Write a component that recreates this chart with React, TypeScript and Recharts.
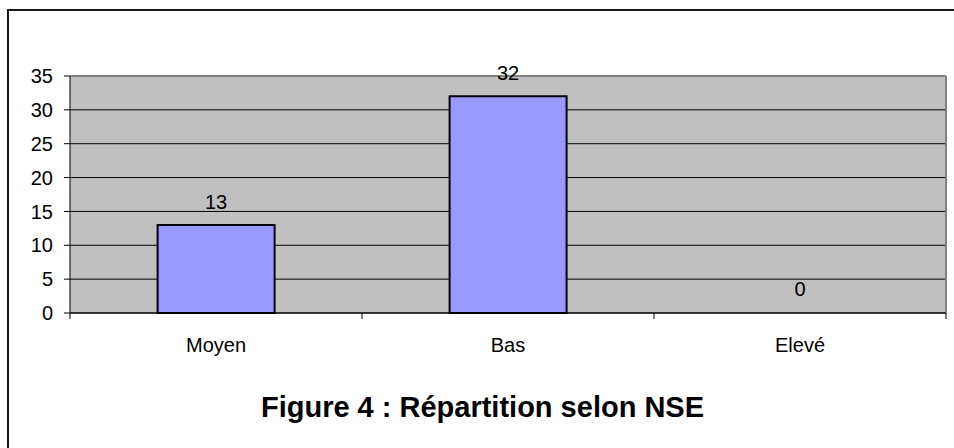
import React from 'react'
import { BarChart, Bar, XAxis, YAxis, CartesianGrid, LabelList, ReferenceLine, Rectangle } from 'recharts'

const categories = ['Moyen', 'Bas', 'Elevé']
const counts = [13, 32, 0]
const yTicks = [0, 5, 10, 15, 20, 25, 30, 35]
const title = 'Figure 4 : Répartition selon NSE'

const data = categories.map((name, i) => ({ name, count: counts[i] }))

// category label + small marks at the category boundaries (like the old Excel chart)
function CategoryTick(props: any) {
  const { x, y, payload, index, visibleTicksCount, width } = props
  const half = payload?.offset ?? width / visibleTicksCount / 2
  const last = index === visibleTicksCount - 1
  return (
    <g>
      <line x1={x - half} x2={x - half} y1={y} y2={y + 6} stroke="#000" />
      {last && <line x1={x + half} x2={x + half} y1={y} y2={y + 6} stroke="#000" />}
      <text x={x} y={y + 39} textAnchor="middle" fontSize={20} fill="#000">
        {payload.value}
      </text>
    </g>
  )
}

// zero bars get a 1px placeholder so the label still shows, but nothing is drawn
function BarShape(props: any) {
  if (props.payload && props.payload.count === 0) return <g />
  return <Rectangle {...props} />
}

export default function App() {
  return (
    <div
      style={{
        position: 'fixed',
        left: 0,
        top: 0,
        width: 954,
        height: 448,
        overflow: 'hidden',
        background: '#fff',
        fontFamily: '"Liberation Sans", Arial, sans-serif',
      }}
    >
      {/* outer frame, only top and left edges are visible in the crop */}
      <div
        style={{
          position: 'absolute',
          left: 7,
          top: 9,
          width: 1000,
          height: 500,
          borderLeft: '2px solid #1a1a1a',
          borderTop: '2px solid #1a1a1a',
        }}
      />
      <div style={{ position: 'absolute', left: 0, top: 0 }}>
        <BarChart
          width={954}
          height={448}
          data={data}
          margin={{ top: 76, right: 8, bottom: 105, left: 0 }}
          barCategoryGap="30%"
        >
          <CartesianGrid vertical={false} stroke="#000" fill="#C0C0C0" fillOpacity={1} />
          <CartesianGrid
            horizontal={false}
            stroke="#808080"
            strokeWidth={2}
            verticalCoordinatesGenerator={({ offset }: any) => [offset.left + offset.width]}
          />
          <ReferenceLine y={35} stroke="#808080" strokeWidth={2} />
          <XAxis
            dataKey="name"
            stroke="#000"
            tickLine={false}
            tickSize={0}
            tickMargin={0}
            height={30}
            tick={<CategoryTick />}
            interval={0}
          />
          <YAxis
            domain={[0, 35]}
            ticks={yTicks}
            width={70}
            stroke="#000"
            tickSize={6}
            tickMargin={11}
            tick={{ fontSize: 20, fill: '#000' }}
            interval={0}
          />
          <Bar
            dataKey="count"
            fill="#9999FF"
            stroke="#000"
            strokeWidth={2}
            minPointSize={1}
            shape={BarShape}
            isAnimationActive={false}
          >
            <LabelList dataKey="count" position="top" offset={16} fontSize={20} fill="#000" />
          </Bar>
        </BarChart>
      </div>
      <div
        style={{
          position: 'absolute',
          left: 0,
          top: 393,
          width: 965,
          textAlign: 'center',
          fontSize: 29,
          lineHeight: '29px',
          fontWeight: 'bold',
          color: '#000',
        }}
      >
        {title}
      </div>
    </div>
  )
}
